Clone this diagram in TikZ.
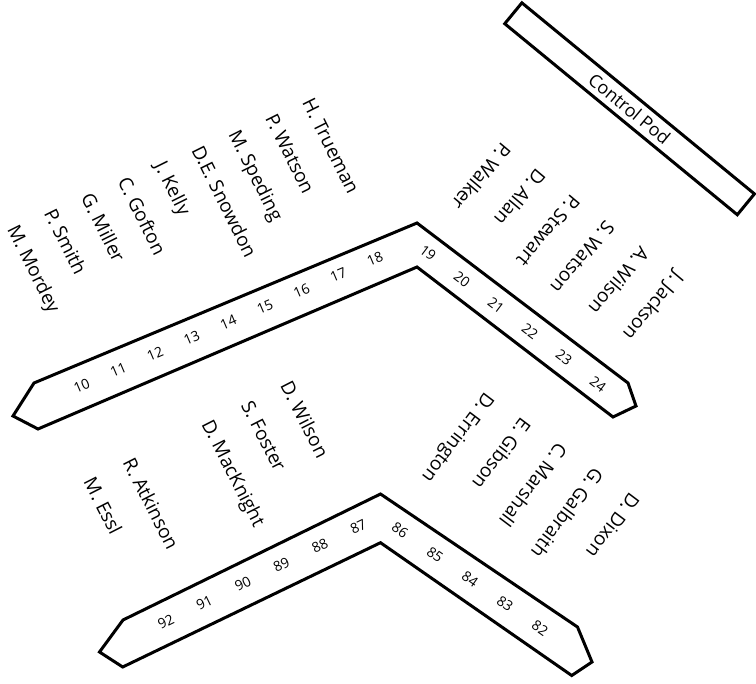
\documentclass[tikz,border=0pt]{standalone}
\usepackage{fontspec}
\setmainfont{Open Sans}
\begin{document}
\begin{tikzpicture}[x=1pt,y=-1pt,
  outline/.style={draw=black, line width=3pt, line join=miter},
  seatname/.style={font=\fontsize{19}{19}\selectfont, inner sep=0pt, anchor=base west, text=black},
  seatnum/.style={font=\fontsize{14}{14}\selectfont, inner sep=0pt, text=black}]
\useasboundingbox (0,0) rectangle (756,684);

% upper chevron
\draw[outline] (417,223) -- (628,383) -- (636,406) -- (613,417) -- (417,267)
  -- (38,429) -- (13,416) -- (34,383) -- cycle;
% lower chevron
\draw[outline] (380.5,494) -- (577.5,627) -- (592,662) -- (571.7,675.5) -- (380.5,542.7)
  -- (122.7,667) -- (99.5,652) -- (123,620) -- cycle;

% control pod
\node[draw=black, line width=3pt, rotate=-39.4, minimum width=301pt, minimum height=27pt,
  inner sep=0pt, font=\fontsize{18}{18}\selectfont] (pod) at (629.6,108.8) {Control Pod};

% upper-left names
\foreach \t [count=\i from 0] in {H. Trueman, P. Watson, M. Speding, D.E. Snowdon, J. Kelly, C. Gofton, G. Miller, P. Smith, M. Mordey}
  \node[seatname, rotate=-63.5] (ul\i) at ({301.7-36.875*\i},{102.5+15.825*\i}) {\t};

% lower-left names
\foreach \t/\i in {D. Wilson/0, S. Foster/1, D. MacKnight/2, R. Atkinson/4, M. Essl/5}
  \node[seatname, rotate=-63] (ll\i) at ({279.8-39.37*\i},{385.8+19.17*\i}) {\t};

% upper-right names
\foreach \t [count=\i from 0] in {P. Walker, D. Allan, P. Stewart, S. Watson, A. Wilson, J. Jackson}
  \node[seatname, rotate=-130] (ur\i) at ({501.8+34.6*\i},{141.7+25.8*\i}) {\t};

% lower-right names
\foreach \t [count=\i from 0] in {D. Errington, E. Gibson, C. Marshall, G. Galbraith, D. Dixon}
  \node[seatname, rotate=-127] (lr\i) at ({485.1+36.25*\i},{391.7+25*\i}) {\t};

% seat numbers
\foreach \n [count=\i from 0] in {10,...,18}
  \node[seatnum, rotate=23] (n\n) at ({81.7+36.66*\i},{385.7-15.84*\i}) {\n};
\foreach \n [count=\i from 0] in {19,...,24}
  \node[seatnum, rotate=-37] (n\n) at ({428+34*\i},{253+26.2*\i}) {\n};
\foreach \n [count=\i from 0] in {92,91,...,87}
  \node[seatnum, rotate=26] (n\n) at ({166+38.46*\i},{621.7-19*\i}) {\n};
\foreach \n [count=\i from 0] in {86,85,...,82}
  \node[seatnum, rotate=-35] (n\n) at ({400+35*\i},{530+24.6*\i}) {\n};
\end{tikzpicture}
\end{document}
